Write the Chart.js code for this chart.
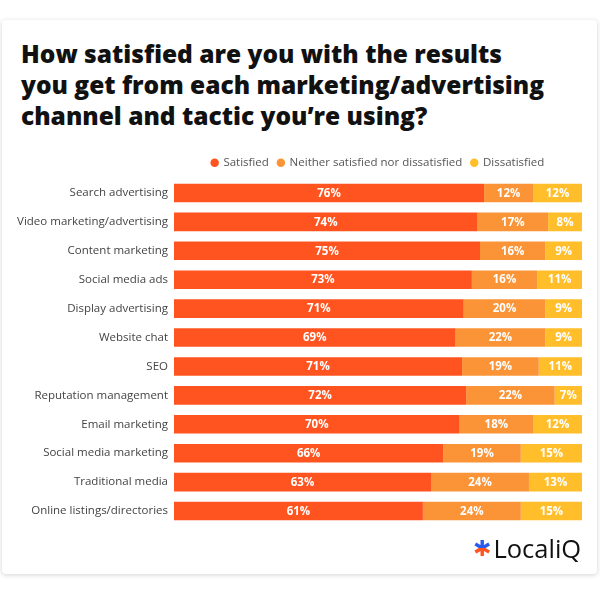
<!DOCTYPE html>
<html>
<head>
<meta charset="utf-8">
<script src="https://cdn.jsdelivr.net/npm/chart.js@4.4.1/dist/chart.umd.min.js"></script>
<style>
    html, body { margin: 0; padding: 0; background: #fff; }
    body { width: 600px; height: 600px; position: relative; overflow: hidden; }
    .tarjeta {
        position: absolute; left: 2px; top: 20px; width: 595px; height: 554px;
        background: #fff; border-radius: 4px;
        box-shadow: 0 1px 5px rgba(0, 0, 0, 0.18);
    }
    h1 {
        position: absolute; left: 21px; top: 38px; margin: 0;
        font-family: 'Open Sans', sans-serif; font-weight: 800; font-size: 24.5px;
        line-height: 31px; color: #111; letter-spacing: 0;
        white-space: nowrap;
    }
    #grafico { position: absolute; left: 0; top: 0; }
    .logo {
        position: absolute; left: 473px; top: 531px;
        font-family: 'Open Sans', sans-serif; font-size: 25.5px; color: #111;
        display: flex; align-items: center;
    }
    .logo .asterisco {
        font-family: 'DejaVu Sans', sans-serif; font-size: 22px; margin-right: 2px;
        background: linear-gradient(to bottom, #2a5bf0 0%, #2a5bf0 50%, #ff5420 50%, #ff5420 100%);
        -webkit-background-clip: text; background-clip: text; color: transparent;
    }
</style>
</head>
<body>
<div class="tarjeta"></div>
<h1>How satisfied are you with the results<br>you get from each marketing/advertising<br>channel and tactic you’re using?</h1>
<canvas id="grafico" width="600" height="600"></canvas>
<div class="logo"><span class="asterisco">✱</span>LocaliQ</div>
<script>
// Datos
const categorias = [
    'Search advertising', 'Video marketing/advertising', 'Content marketing', 'Social media ads',
    'Display advertising', 'Website chat', 'SEO', 'Reputation management',
    'Email marketing', 'Social media marketing', 'Traditional media', 'Online listings/directories'
];
const satisfechos = [76, 74.4, 75, 73, 71, 69, 70.6, 71.6, 70, 66, 63, 61];
const neutrales = [12, 17.3, 16, 16, 20, 22, 18.8, 21.7, 18, 19, 24, 24];
const insatisfechos = [12, 8.3, 9, 11, 9, 9, 10.6, 6.7, 12, 15, 13, 15];
const series = ['Satisfied', 'Neither satisfied nor dissatisfied', 'Dissatisfied'];
const colores = ['#ff5420', '#fa9436', '#ffbe2a'];

// Etiquetas de porcentaje dentro de cada segmento
const etiquetasBarras = {
    id: 'etiquetasBarras',
    afterDatasetsDraw(chart) {
        const ctx = chart.ctx;
        ctx.save();
        ctx.font = 'bold 11.5px "Open Sans", sans-serif';
        ctx.fillStyle = '#fff';
        ctx.textAlign = 'center';
        ctx.textBaseline = 'middle';
        chart.data.datasets.forEach((ds, i) => {
            chart.getDatasetMeta(i).data.forEach((barra, j) => {
                const { x, base, y } = barra.getProps(['x', 'base', 'y'], true);
                ctx.fillText(Math.round(ds.data[j]) + '%', (x + base) / 2, y + 0.5);
            });
        });
        ctx.restore();
    }
};

const grafico = new Chart(document.getElementById('grafico'), {
    type: 'bar',
    data: {
        labels: categorias,
        datasets: [satisfechos, neutrales, insatisfechos].map((valores, i) => ({
            label: series[i],
            data: valores,
            backgroundColor: colores[i],
            borderWidth: 0,
            barPercentage: 0.64,
            categoryPercentage: 1
        }))
    },
    plugins: [etiquetasBarras],
    options: {
        indexAxis: 'y',
        responsive: false,
        animation: false,
        layout: { padding: { top: 148, bottom: 74.5, left: 0, right: 18 } },
        scales: {
            x: { stacked: true, min: 0, max: 100, display: false },
            y: {
                stacked: true,
                grid: { display: false, drawTicks: false },
                border: { display: false },
                ticks: {
                    padding: 6,
                    color: '#444',
                    font: { family: 'Open Sans', size: 11.5 }
                },
                afterFit(escala) { escala.width = 174; }
            }
        },
        plugins: {
            legend: {
                position: 'top',
                fullSize: false,
                labels: {
                    usePointStyle: true,
                    pointStyle: 'circle',
                    boxWidth: 6,
                    boxHeight: 6,
                    padding: 9,
                    color: '#555',
                    font: { family: 'Open Sans', size: 11.5 }
                }
            },
            tooltip: { enabled: false }
        }
    }
});
</script>
</body>
</html>
